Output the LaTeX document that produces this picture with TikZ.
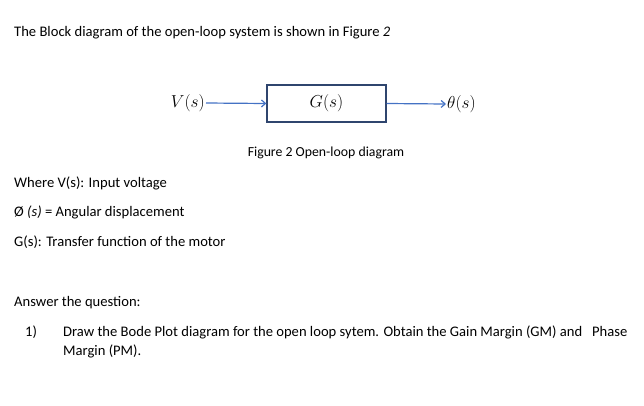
\documentclass[tikz,border=0pt]{standalone}
\usepackage{fontspec}
\setmainfont{Carlito}
\usetikzlibrary{arrows.meta}
\tikzset{
  txt/.style={anchor=west,inner sep=0pt,font=\fontsize{14.6}{17}\selectfont},
  arr/.style={draw={rgb,255:red,68;green,114;blue,196},line width=1.2pt,-{Straight Barb[length=4pt,width=7pt]}},
  blockbox/.style={draw={rgb,255:red,47;green,69;blue,110},line width=1.3pt,minimum width=119pt,minimum height=37pt,inner sep=0pt,font=\fontsize{16}{18}\selectfont}
}
\begin{document}
\begin{tikzpicture}[x=1pt,y=-1pt]
\useasboundingbox (0,0) rectangle (644,405);
\node[txt] (title) at (14,33) {The Block diagram of the open-loop system is shown in Figure \textit{2}};
\node[blockbox] (g) at (326.5,103.5) {$G(s)$};
\node[anchor=east,inner sep=1pt,font=\fontsize{16}{18}\selectfont] (v) at (206,103) {$V(s)$};
\node[anchor=west,inner sep=1pt,font=\fontsize{16}{18}\selectfont] (th) at (446,104) {$\theta(s)$};
\draw[arr] (v.east) -- (g.west);
\draw[arr] (g.east) -- (th.west);
\node[inner sep=0pt,font=\fontsize{13.8}{16}\selectfont] (cap) at (326,153) {Figure 2 Open-loop diagram};
\node[txt] (w1) at (14,183) {Where V(s): Input voltage};
\node[txt] (w2) at (14,212) {Ø\ \textit{(s)} = Angular displacement};
\node[txt] (w3) at (14,242) {G(s): Transfer function of the motor};
\node[txt] (ans) at (14,303) {Answer the question:};
\node[txt] (n1) at (25,332) {1)};
\node[txt] (q1) at (63,332) {Draw the Bode Plot diagram for the open loop sytem. Obtain the Gain Margin (GM) and\ \ \ Phase};
\node[txt] (q2) at (63,351) {Margin (PM).};
\end{tikzpicture}
\end{document}
